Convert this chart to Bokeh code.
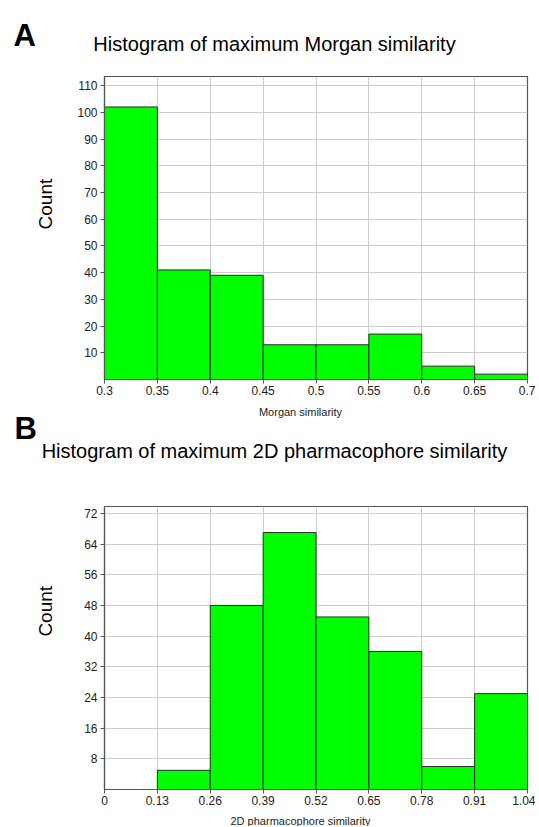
import math
from bokeh.plotting import figure
from bokeh.models import FixedTicker, Label, Range1d
from bokeh.layouts import column, row
from bokeh.embed import file_html
from bokeh.resources import INLINE

FONT = "Liberation Sans"

# ---- Panel A: maximum Morgan similarity ----
morgan_edges = [0.3, 0.35, 0.4, 0.45, 0.5, 0.55, 0.6, 0.65, 0.7]
morgan_counts = [102, 41, 39, 13, 13, 17, 5, 2]
morgan_xticks = [0.3, 0.35, 0.4, 0.45, 0.5, 0.55, 0.6, 0.65, 0.7]
morgan_xlabels = ["0.3", "0.35", "0.4", "0.45", "0.5", "0.55", "0.6", "0.65", "0.7"]
morgan_yticks = [10, 20, 30, 40, 50, 60, 70, 80, 90, 100, 110]

# ---- Panel B: maximum 2D pharmacophore similarity ----
pharm_edges = [0, 0.13, 0.26, 0.39, 0.52, 0.65, 0.78, 0.91, 1.04]
pharm_counts = [0, 5, 48, 67, 45, 36, 6, 25]
pharm_xticks = [0, 0.13, 0.26, 0.39, 0.52, 0.65, 0.78, 0.91, 1.04]
pharm_xlabels = ["0", "0.13", "0.26", "0.39", "0.52", "0.65", "0.78", "0.91", "1.04"]
pharm_yticks = [8, 16, 24, 32, 40, 48, 56, 64, 72]

TICK_COLOR = "#222222"
AXIS_COLOR = "#555555"

LEFT_W = 60      # strip holding the "Count" label
PLOT_W = 475     # histogram figure width (frame 423 px)


def blank(width, height):
    """A text-only strip whose frame covers the whole canvas (pixel coordinates, y down)."""
    b = figure(width=width, height=height, x_range=Range1d(0, width),
               y_range=Range1d(height, 0), x_axis_type=None, y_axis_type=None,
               output_backend="svg", toolbar_location=None,
               min_border=0, min_border_left=0, min_border_right=0,
               min_border_top=0, min_border_bottom=0)
    b.outline_line_color = None
    b.grid.visible = False
    b.background_fill_color = "white"
    b.border_fill_color = "white"
    return b


def text(fig, x, y, s, size, bold=False, align="left", baseline="middle",
         color="black", angle=0.0):
    fig.add_layout(Label(x=x, y=y, text=s, text_font=FONT, text_font_size=size,
                         text_font_style="bold" if bold else "normal",
                         text_color=color, text_align=align,
                         text_baseline=baseline, angle=angle))


def make_panel(edges, counts, xticks, xlabels, yticks, xr, yr, height, border_bottom):
    p = figure(width=PLOT_W, height=height,
               x_range=Range1d(*xr), y_range=Range1d(*yr),
               output_backend="svg", toolbar_location=None,
               min_border_left=44, min_border_right=8,
               min_border_top=5, min_border_bottom=border_bottom)
    p.background_fill_color = "white"
    p.border_fill_color = "white"
    p.outline_line_color = AXIS_COLOR
    p.outline_line_width = 1.2

    p.quad(left=edges[:-1], right=edges[1:], top=counts, bottom=0,
           fill_color="#00ff00", line_color="#2b2b2b", line_width=1)

    p.xaxis.ticker = FixedTicker(ticks=xticks)
    p.xaxis.major_label_overrides = dict(zip(xticks, xlabels))
    p.yaxis.ticker = FixedTicker(ticks=yticks)
    for ax in (p.xaxis[0], p.yaxis[0]):
        ax.axis_line_color = AXIS_COLOR
        ax.axis_line_width = 1.2
        ax.major_tick_line_color = AXIS_COLOR
        ax.major_tick_out = 4
        ax.major_tick_in = 0
        ax.minor_tick_line_color = None
        ax.major_label_text_font = FONT
        ax.major_label_text_font_size = "12px"
        ax.major_label_text_color = TICK_COLOR
    p.xaxis.major_label_standoff = 2
    p.yaxis.major_label_standoff = 3

    p.xgrid.ticker = FixedTicker(ticks=xticks)
    p.ygrid.ticker = FixedTicker(ticks=yticks)
    p.grid.grid_line_color = "#cccccc"
    p.grid.grid_line_width = 1
    return p


W = LEFT_W + PLOT_W

# header A (page y 0..71)
hA = blank(W, 71)
text(hA, 13, 35, "A", "31px", bold=True, baseline="alphabetic")
text(hA, 274, 43, "Histogram of maximum Morgan similarity", "20px", align="center")

# panel A (page y 71..401, frame 76..379)
pA = make_panel(morgan_edges, morgan_counts, morgan_xticks, morgan_xlabels,
                morgan_yticks, (0.3, 0.7), (0, 113.4), 330, 22)
cA = blank(LEFT_W, 330)
text(cA, 45, 139, "Count", "19px", align="center", angle=math.pi / 2)

# header B (page y 401..501)
hB = blank(W, 100)
text(hB, 300, 10, "Morgan similarity", "11px", align="center", color="#222222")
text(hB, 14, 27, "B", "31px", bold=True, baseline="alphabetic")
text(hB, 274, 49, "Histogram of maximum 2D pharmacophore similarity", "20px", align="center")

# panel B (page y 501..809, frame 506..789)
pB = make_panel(pharm_edges, pharm_counts, pharm_xticks, pharm_xlabels,
                pharm_yticks, (0, 1.04), (0, 73.8), 308, 20)
cB = blank(LEFT_W, 308)
text(cB, 45, 114, "Count", "19px", align="center", angle=math.pi / 2)

# footer (page y 809..826)
fB = blank(W, 17)
text(fB, 300, 11, "2D pharmacophore similarity", "11px", align="center", color="#222222")

layout = column(hA, row(cA, pA, spacing=0), hB, row(cB, pB, spacing=0), fB, spacing=0)
open("out.html", "w").write(file_html(layout, INLINE))
